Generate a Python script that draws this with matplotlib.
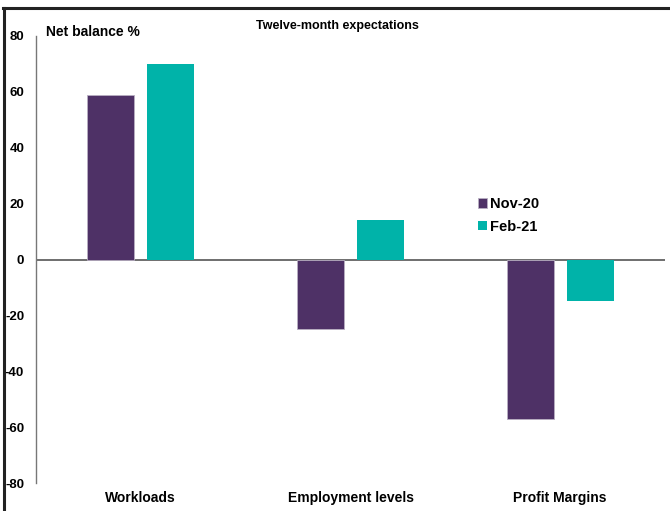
import matplotlib.pyplot as plt
import numpy as np
from matplotlib.lines import Line2D

plt.rcParams['font.family'] = ['Liberation Sans', 'DejaVu Sans']

# Net balance data
categories = ["Workloads", "Employment levels", "Profit Margins"]
nov20 = [59, -25, -57]
feb21 = [70, 14, -15]
series_names = ["Nov-20", "Feb-21"]
yticks = [-80, -60, -40, -20, 0, 20, 40, 60, 80]

purple = '#4E3166'
teal = '#00B3A9'

fig = plt.figure(figsize=(6.70, 5.11), dpi=100)
ax = fig.add_axes([36/670, 1 - 483/511, 629/670, (483 - 36)/511])

x = np.arange(len(categories))
w = 0.224
off = 0.143
ax.bar(x - off, nov20, w, color=purple, edgecolor='#B8AFC2', linewidth=0.6, label=series_names[0])
ax.bar(x + off, feb21, w, color=teal, label=series_names[1])

ax.axhline(0, color='#555555', linewidth=1.2, zorder=0)

ax.set_xlim(-0.5, 2.5)
ax.set_ylim(-80, 80)
ax.set_yticks(yticks)
ax.set_yticklabels([str(v) for v in yticks], fontsize=9.5, fontweight='bold')
ax.set_xticks(x)
ax.set_xticklabels(categories, fontsize=10, fontweight='bold')
ax.tick_params(axis='both', length=0)
ax.tick_params(axis='y', pad=8.5)
ax.tick_params(axis='x', pad=6)

for s in ['top', 'right', 'bottom']:
    ax.spines[s].set_visible(False)
ax.spines['left'].set_color('#777777')
ax.spines['left'].set_linewidth(1.0)

ax.text(10/629, 1 + 4/447, "Net balance %", transform=ax.transAxes, fontsize=10,
        fontweight='bold', va='center', ha='left')
fig.text(337/670, 1 - 26/511, "Twelve-month expectations", fontsize=9,
         fontweight='bold', ha='center', va='center')

ax.legend(loc='upper left', bbox_to_anchor=(429/629, 1 - (184 - 36)/447),
          frameon=False, prop={'weight': 'bold', 'size': 10.5},
          handlelength=0.6, handleheight=0.6, handletextpad=0.2, labelspacing=0.6)

# frame lines along the top and left of the figure
fig.add_artist(Line2D([3/670, 1], [1 - 8.5/511, 1 - 8.5/511], color='#222222', linewidth=2.2,
                      transform=fig.transFigure))
fig.add_artist(Line2D([3.5/670, 3.5/670], [0, 1 - 8.5/511], color='#222222', linewidth=2.2,
                      transform=fig.transFigure))

fig.savefig("out.png", dpi=100)
